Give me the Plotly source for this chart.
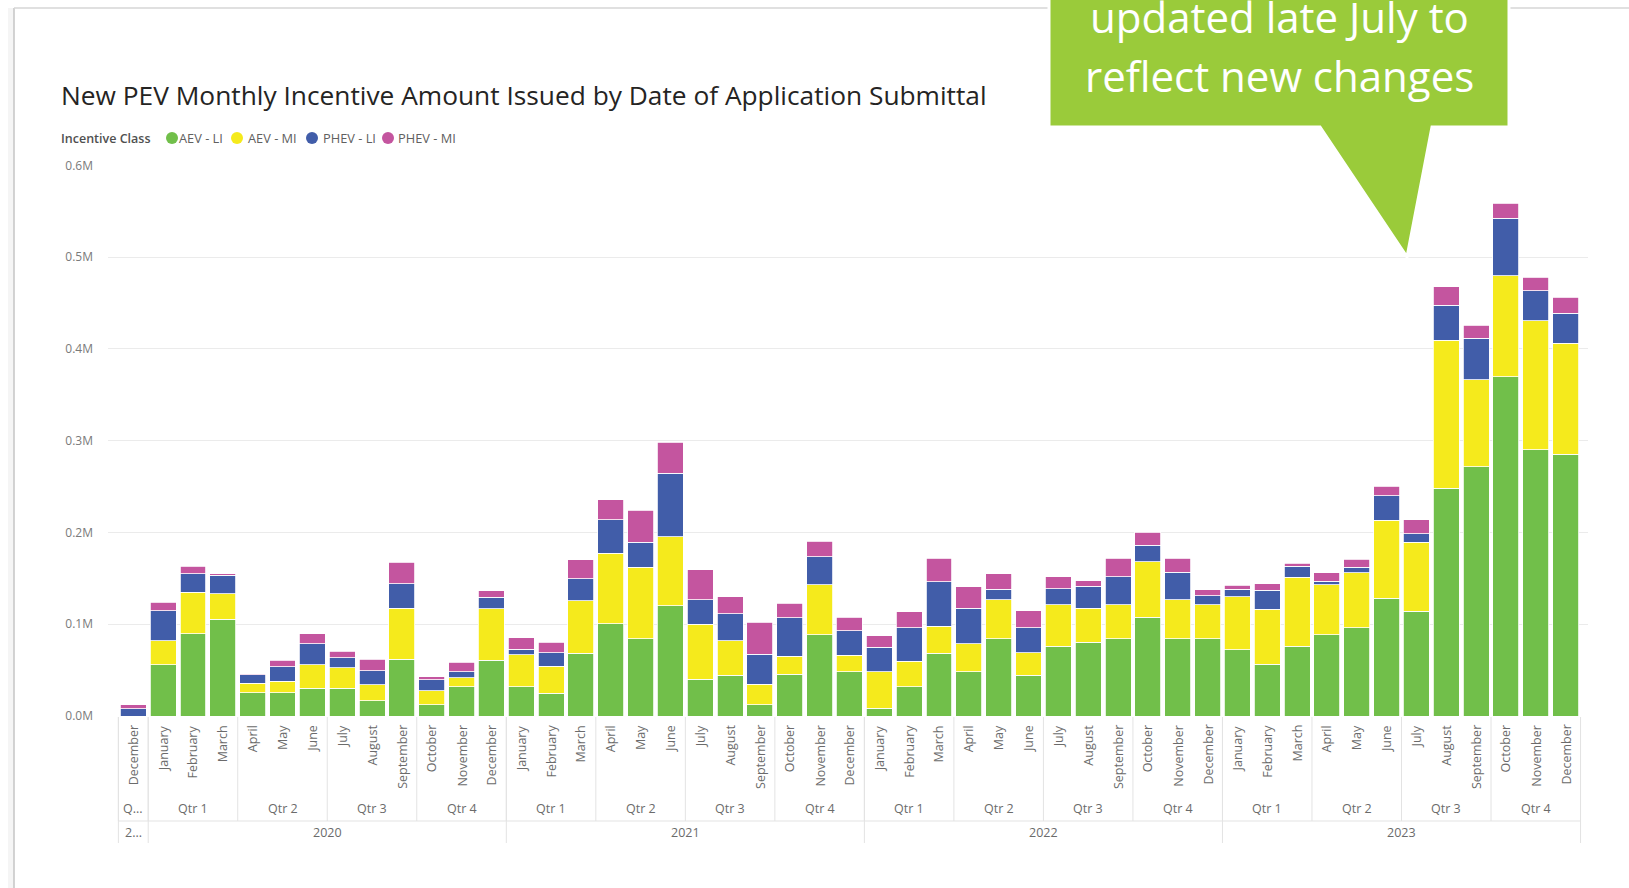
import plotly.graph_objects as go

# ---------------- data ----------------
month_names = ["December"] + ["January", "February", "March", "April", "May", "June",
                              "July", "August", "September", "October", "November", "December"] * 4
month_years = [2019] + [2020] * 12 + [2021] * 12 + [2022] * 12 + [2023] * 12

# incentive amounts ($)
aev_li = [0, 55600, 89900, 105200, 25400, 25400, 30200, 30200, 16500, 62100, 12500, 31900, 60500,
          31900, 24600, 68500, 100400, 84300, 120200, 40300, 44400, 12500, 45600, 88700, 48400,
          8500, 31900, 68500, 48400, 84300, 44400, 76200, 80200, 84300, 107700, 84300, 84300,
          72200, 56500, 76200, 88300, 96400, 128200, 114100, 248400, 271400, 369800, 290300, 285500]
aev_mi = [0, 26600, 45200, 27800, 10100, 12500, 25400, 22600, 17800, 55200, 14900, 10000, 56400,
          35000, 29400, 56900, 77000, 77800, 75000, 59700, 37500, 22200, 19700, 54400, 17700,
          39900, 27800, 29500, 30200, 42300, 24600, 45200, 37100, 37100, 60400, 42300, 37100,
          57600, 59600, 75000, 54800, 59600, 85100, 75000, 160900, 95100, 110000, 140300, 120500]
phev_li = [8000, 32700, 20200, 20200, 9700, 15700, 23400, 10900, 14900, 27100, 12100, 6500, 12500,
           6100, 15000, 24200, 36700, 27000, 69300, 26600, 29800, 32600, 42000, 30700, 26600,
           26600, 36700, 48400, 38700, 11700, 27400, 17300, 24200, 30600, 18200, 29900, 9600,
           8500, 21000, 12100, 3700, 6100, 27000, 9300, 38300, 45200, 62900, 33100, 32700]
phev_mi = [4000, 9300, 8100, 1600, 800, 6900, 10900, 6900, 12500, 22900, 3200, 10100, 6900,
           12500, 11200, 20600, 21400, 35100, 33900, 32700, 18500, 35100, 15700, 16500, 15000,
           12500, 17300, 25400, 23800, 16900, 18100, 12900, 5700, 19800, 13700, 15300, 6500,
           4000, 6900, 3200, 9200, 8500, 10100, 15700, 20100, 14100, 16200, 14500, 17800]

series_names = ["AEV - LI", "AEV - MI", "PHEV - LI", "PHEV - MI"]
series_colors = ["#71BF4A", "#F5EA1C", "#415DA9", "#C4559F"]

y_tick_vals = [0, 100000, 200000, 300000, 400000, 500000, 600000]
y_tick_text = ["0.0M", "0.1M", "0.2M", "0.3M", "0.4M", "0.5M", "0.6M"]

title_text = "New PEV Monthly Incentive Amount Issued by Date of Application Submittal"
legend_title = "Incentive Class"
callout_lines = ["updated late July to", "reflect new changes"]

# ---------------- layout geometry (pixel coords) ----------------
W, H = 1629, 888
PL, PR, PT, PB = 108, 1588, 165, 716
FONT = "Open Sans, Segoe UI, sans-serif"
GRAY = "#6b6b6b"
SEP = "#E3E3E3"


def px_x(px):
    return (px - PL) / (PR - PL)


def px_y(py):
    return (PB - py) / (PB - PT)


keys = [f"{m[:3]} {y}" for m, y in zip(month_names, month_years)]
ALL_MONTHS = ["January", "February", "March", "April", "May", "June", "July", "August",
              "September", "October", "November", "December"]
quarters = [ALL_MONTHS.index(m) // 3 + 1 for m in month_names]

fig = go.Figure()
for name, vals, col in zip(series_names, [aev_li, aev_mi, phev_li, phev_mi], series_colors):
    fig.add_trace(go.Bar(x=keys, y=vals, name=name,
                         marker=dict(color=col, line=dict(color="white", width=0.8)),
                         showlegend=False))

shapes = []
annotations = []

# month labels
for k, m in zip(keys, month_names):
    annotations.append(dict(x=k, xref="x", y=px_y(723), yref="paper", text=m, textangle=-90,
                            xanchor="center", yanchor="top", showarrow=False,
                            font=dict(family=FONT, size=12.5, color=GRAY)))

# quarter / year groups
n = len(keys)
q_runs = []
start = 0
for i in range(1, n + 1):
    if i == n or quarters[i] != quarters[start] or month_years[i] != month_years[start]:
        q_runs.append((start, i - 1))
        start = i
y_runs = []
start = 0
for i in range(1, n + 1):
    if i == n or month_years[i] != month_years[start]:
        y_runs.append((start, i - 1))
        start = i

for s, e in q_runs:
    label = f"Qtr {quarters[s]}" if e > s else "Q..."
    annotations.append(dict(x=(s + e) / 2, xref="x", y=px_y(808), yref="paper", text=label,
                            xanchor="center", yanchor="middle", showarrow=False,
                            font=dict(family=FONT, size=12.5, color=GRAY)))
    shapes.append(dict(type="line", xref="x", yref="paper", x0=s - 0.5, x1=s - 0.5,
                       y0=px_y(717), y1=px_y(821), line=dict(color=SEP, width=1)))
for s, e in y_runs:
    label = str(month_years[s]) if e > s else "2..."
    annotations.append(dict(x=(s + e) / 2, xref="x", y=px_y(832), yref="paper", text=label,
                            xanchor="center", yanchor="middle", showarrow=False,
                            font=dict(family=FONT, size=12.5, color=GRAY)))
    shapes.append(dict(type="line", xref="x", yref="paper", x0=s - 0.5, x1=s - 0.5,
                       y0=px_y(717), y1=px_y(843), line=dict(color=SEP, width=1)))
shapes.append(dict(type="line", xref="x", yref="paper", x0=n - 0.5, x1=n - 0.5,
                   y0=px_y(717), y1=px_y(843), line=dict(color=SEP, width=1)))
shapes.append(dict(type="line", xref="x", yref="paper", x0=-0.5, x1=n - 0.5,
                   y0=px_y(821), y1=px_y(821), line=dict(color=SEP, width=1)))

# card border + shadow
shapes.append(dict(type="rect", xref="paper", yref="paper", x0=px_x(8), x1=px_x(14), y0=px_y(8), y1=px_y(900),
                   line=dict(width=0), fillcolor="rgba(0,0,0,0.04)", layer="below"))
shapes.append(dict(type="line", xref="paper", yref="paper", x0=px_x(14), x1=px_x(14), y0=px_y(8), y1=px_y(900),
                   line=dict(color="#C4C4C4", width=1.5)))
shapes.append(dict(type="line", xref="paper", yref="paper", x0=px_x(14), x1=px_x(1640), y0=px_y(8), y1=px_y(8),
                   line=dict(color="#D6D6D6", width=1.5)))

# title
annotations.append(dict(x=px_x(59), xref="paper", y=px_y(95), yref="paper", text=title_text,
                        xanchor="left", yanchor="middle", showarrow=False,
                        font=dict(family=FONT, size=26.3, color="#252423")))

# legend
annotations.append(dict(x=px_x(59), xref="paper", y=px_y(138), yref="paper", text=legend_title,
                        xanchor="left", yanchor="middle", showarrow=False,
                        font=dict(family=FONT, size=12.5, color="#505050", weight=600)))
leg_circles = [172, 237, 312, 388]
leg_texts = [177, 246, 321, 396]
for cx, tx, name, col in zip(leg_circles, leg_texts, series_names, series_colors):
    r = 6
    shapes.append(dict(type="circle", xref="paper", yref="paper", x0=px_x(cx - r), x1=px_x(cx + r),
                       y0=px_y(138 - r), y1=px_y(138 + r), fillcolor=col, line=dict(width=0)))
    annotations.append(dict(x=px_x(tx), xref="paper", y=px_y(138), yref="paper", text=name,
                            xanchor="left", yanchor="middle", showarrow=False,
                            font=dict(family=FONT, size=12.8, color="#606060")))

# callout
pts = [(1049, -12), (1509, -12), (1509, 127), (1432, 127), (1407, 257), (1320, 127), (1049, 127)]
path = "M " + " L ".join(f"{px_x(x):.5f},{px_y(y):.5f}" for x, y in pts) + " Z"
shapes.append(dict(type="path", xref="paper", yref="paper", path=path, fillcolor="#9ACB3A",
                   line=dict(color="white", width=3)))
for txt, cy in zip(callout_lines, [17, 75]):
    annotations.append(dict(x=px_x(1279), xref="paper", y=px_y(cy), yref="paper", text=txt,
                            xanchor="center", yanchor="middle", showarrow=False,
                            font=dict(family=FONT, size=42, color="white")))

fig.update_layout(
    width=W, height=H,
    margin=dict(l=PL, r=W - PR, t=PT, b=H - PB, pad=0),
    paper_bgcolor="white", plot_bgcolor="white",
    barmode="stack", bargap=0.13,
    shapes=shapes, annotations=annotations,
    font=dict(family=FONT),
)
fig.update_xaxes(type="category", categoryorder="array", categoryarray=keys,
                 range=[-0.848, n - 1 + 0.75], showticklabels=False, showgrid=False,
                 zeroline=False, showline=False, ticks="")
fig.update_yaxes(range=[0, 600500], tickvals=y_tick_vals, ticktext=y_tick_text,
                 showgrid=True, gridcolor="#EBEBEB", gridwidth=1, zeroline=False, showline=False,
                 ticks="", ticklabelstandoff=14, tickfont=dict(family=FONT, size=12, color="#7a7a7a"))

fig.write_html("out.html", config={"displayModeBar": False},
               post_script="document.body.style.margin='0';document.body.style.overflow='hidden';")
